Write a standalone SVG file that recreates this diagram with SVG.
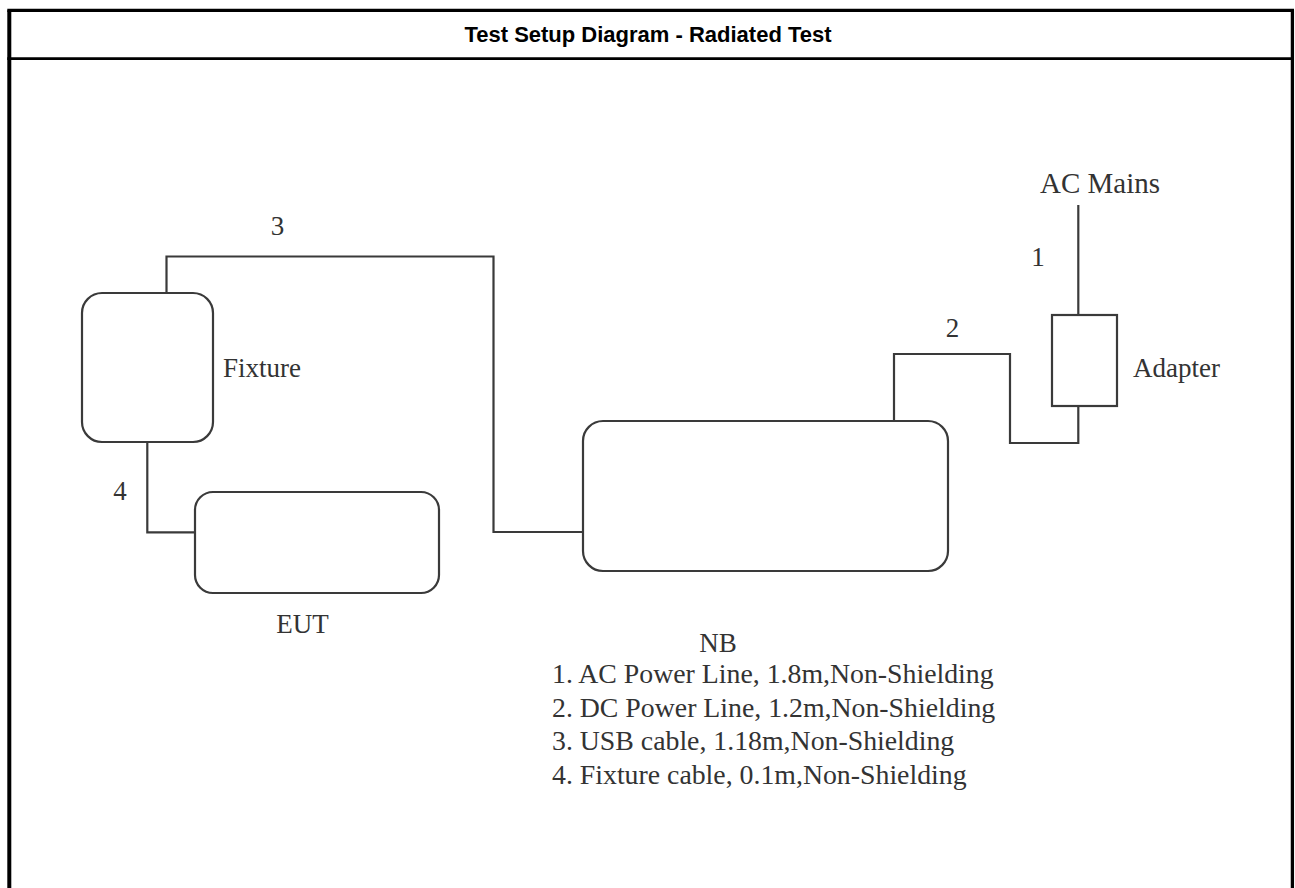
<svg xmlns="http://www.w3.org/2000/svg" width="1295" height="888" viewBox="0 0 1295 888">
<style>
.frame{fill:none;stroke:#000;stroke-width:3.3}
.title{font-family:"Liberation Sans",Arial,sans-serif;font-weight:bold;font-size:22px;fill:#000}
.box{fill:none;stroke:#3a3a3a;stroke-width:2.2}
.wire{fill:none;stroke:#3a3a3a;stroke-width:2.2}
.lbl{font-family:"Liberation Serif","Times New Roman",serif;font-size:27px;fill:#333}
.leg{font-family:"Liberation Serif","Times New Roman",serif;font-size:27.8px;fill:#333}
</style>
<rect x="0" y="0" width="1295" height="888" fill="#fff"/>
<g id="frame">
<line class="frame" x1="9.3" y1="10.3" x2="9.3" y2="888" style="stroke-width:4"/>
<line class="frame" x1="1292.4" y1="10.3" x2="1292.4" y2="888"/>
<line class="frame" x1="7.3" y1="10.3" x2="1294" y2="10.3"/>
<line class="frame" x1="7.3" y1="58.6" x2="1294" y2="58.6" style="stroke-width:2.8"/>
<text class="title" x="648" y="42" text-anchor="middle">Test Setup Diagram - Radiated Test</text>
</g>
<g id="connectors">
<polyline class="wire" points="166.5,293 166.5,256.5 493.5,256.5 493.5,532 583,532"/>
<polyline class="wire" points="147.3,442 147.3,532.3 195,532.3"/>
<polyline class="wire" points="1078.3,205 1078.3,315"/>
<polyline class="wire" points="1078.3,406 1078.3,443 1010,443 1010,354 894,354 894,421"/>
<text class="lbl" x="277.5" y="235" text-anchor="middle">3</text>
<text class="lbl" x="120" y="500" text-anchor="middle">4</text>
<text class="lbl" x="1038" y="266" text-anchor="middle">1</text>
<text class="lbl" x="952.5" y="336.5" text-anchor="middle">2</text>
</g>
<g id="fixture">
<rect class="box" x="82" y="293" width="131" height="149" rx="20"/>
<text class="lbl" x="223" y="377">Fixture</text>
</g>
<g id="eut">
<rect class="box" x="195" y="492" width="244" height="101" rx="18"/>
<text class="lbl" x="302.5" y="633" text-anchor="middle">EUT</text>
</g>
<g id="nb">
<rect class="box" x="583" y="421" width="365" height="150" rx="20"/>
<text class="lbl" x="718" y="652" text-anchor="middle">NB</text>
</g>
<g id="adapter">
<rect class="box" x="1052" y="315" width="65" height="91"/>
<text class="lbl" x="1133" y="377">Adapter</text>
</g>
<g id="acmains">
<text class="lbl" x="1040" y="193" style="font-size:29px">AC Mains</text>
</g>
<g id="legend">
<text class="leg" x="552" y="683">1. AC Power Line, 1.8m,Non-Shielding</text>
<text class="leg" x="552" y="717">2. DC Power Line, 1.2m,Non-Shielding</text>
<text class="leg" x="552" y="750">3. USB cable, 1.18m,Non-Shielding</text>
<text class="leg" x="552" y="784">4. Fixture cable, 0.1m,Non-Shielding</text>
</g>
</svg>
